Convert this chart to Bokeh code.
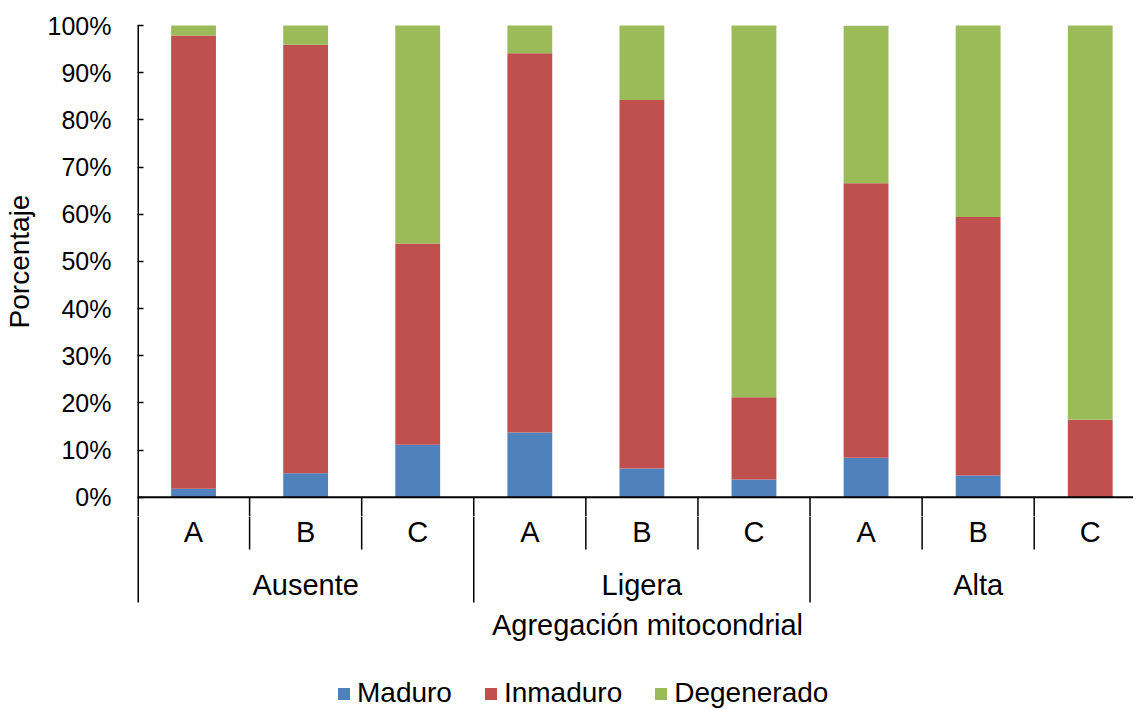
from bokeh.plotting import figure
from bokeh.layouts import column
from bokeh.models import (Range1d, FixedTicker, PrintfTickFormatter, ColumnDataSource,
                          Legend, LegendItem, Span)
from bokeh.core.properties import value
from bokeh.embed import file_html
from bokeh.resources import INLINE

# ---- data ----
groups = ["Ausente", "Ligera", "Alta"]
subgroups = ["A", "B", "C"]
series_names = ["Maduro", "Inmaduro", "Degenerado"]
maduro = [1.8, 5.1, 11.1, 13.7, 6.1, 3.75, 8.35, 4.6, 0.0]
inmaduro = [96.1, 90.8, 42.7, 80.4, 78.1, 17.45, 58.2, 54.8, 16.4]
degenerado = [2.1, 4.1, 46.2, 5.9, 15.8, 78.8, 33.4, 40.6, 83.6]
y_ticks = [0, 10, 20, 30, 40, 50, 60, 70, 80, 90, 100]
colors = ["#4F81BD", "#C0504D", "#9BBB59"]
x_title = "Agregación mitocondrial"
y_title = "Porcentaje"

FONT = "Liberation Sans"

n_cat = len(groups) * len(subgroups)
x_pos = [i + 0.5 for i in range(n_cat)]
sub_labels = [s for g in groups for s in subgroups]

source = ColumnDataSource(dict(x=x_pos, Maduro=maduro, Inmaduro=inmaduro, Degenerado=degenerado))

x_range = Range1d(0, 8.886)
Y_TOP = 104.03       # a little head-room so the axis title centres on 0-100 %
Y_SPLIT = -4.09      # boundary between the two stacked figures
Y_SHORT = -11.1
Y_LONG = -22.32

def style(fig):
    fig.title.visible = False
    fig.outline_line_color = None
    fig.xgrid.visible = False
    fig.ygrid.visible = False
    fig.background_fill_color = "white"
    fig.border_fill_color = "white"

def separators(fig):
    x0, y0, x1, y1 = [], [], [], []
    for i in range(1, n_cat + 1):
        x0.append(i); x1.append(i); y0.append(0)
        y1.append(Y_LONG if i % len(subgroups) == 0 else Y_SHORT)
    fig.segment(x0=x0, y0=y0, x1=x1, y1=y1, line_color="black", line_width=1.5)
    # left boundary: y axis line continued down to the group row
    fig.segment(x0=[0], y0=[max(y_ticks)], x1=[0], y1=[Y_LONG], line_color="black", line_width=3)

# ---- main chart ----
p = figure(width=1133, height=516, output_backend="svg", toolbar_location=None,
           x_range=x_range, y_range=Range1d(Y_SPLIT, Y_TOP),
           min_border_left=131, min_border_right=0, min_border_top=6, min_border_bottom=0)
style(p)
p.xaxis.visible = False

renderers = p.vbar_stack(series_names, x="x", width=0.4, color=colors, source=source,
                         line_color=None)
separators(p)
p.add_layout(Span(location=0, dimension="width", line_color="black", line_width=2))

ya = p.yaxis[0]
ya.ticker = FixedTicker(ticks=y_ticks)
ya.formatter = PrintfTickFormatter(format="%d%%")
ya.axis_line_color = None
ya.major_tick_in = 6
ya.major_tick_out = 0
ya.minor_tick_line_color = None
ya.major_tick_line_width = 1.5
ya.major_label_text_font = FONT
ya.major_label_text_font_size = "25px"
ya.major_label_text_color = "black"
ya.major_label_standoff = 26
ya.axis_label = y_title
ya.axis_label_text_font = FONT
ya.axis_label_text_font_size = "28px"
ya.axis_label_text_font_style = "normal"
ya.axis_label_text_color = "black"
ya.axis_label_standoff = 10

# ---- category axis area ----
q = figure(width=1133, height=193, output_backend="svg", toolbar_location=None,
           x_range=x_range, y_range=Range1d(-45.01, Y_SPLIT),
           min_border_left=131, min_border_right=0, min_border_top=0, min_border_bottom=0)
style(q)
q.xaxis.visible = False
q.yaxis.visible = False

separators(q)

q.text(x=x_pos, y=[-7.3] * n_cat, text=sub_labels, text_font=value(FONT),
       text_font_size=value("29px"), text_align="center", text_baseline="middle",
       text_color="black")
g_x = [len(subgroups) * g + len(subgroups) / 2 for g in range(len(groups))]
q.text(x=g_x, y=[-18.7] * len(groups), text=groups, text_font=value(FONT),
       text_font_size=value("29px"), text_align="center", text_baseline="middle",
       text_color="black")
q.text(x=[len(groups) * len(subgroups) / 2 + 0.05], y=[-27.2], text=[x_title],
       text_font=value(FONT), text_font_size=value("29px"), text_align="center",
       text_baseline="middle", text_color="black")

# legend proxies: same bars, hidden in this panel
proxies = q.vbar_stack(series_names, x="x", width=0.4, color=colors, source=source,
                       line_color=None)
for r in proxies:
    r.visible = False
legend = Legend(items=[LegendItem(label=n, renderers=[r]) for n, r in zip(series_names, proxies)],
                orientation="horizontal", location=(199, 0), border_line_color=None,
                background_fill_alpha=0, label_text_font=FONT, label_text_font_size="28px",
                label_text_color="black", inactive_fill_alpha=0,
                glyph_width=15, glyph_height=15, label_standoff=6, spacing=31,
                padding=0, margin=0)
q.add_layout(legend)

layout = column(p, q, spacing=0)
open("out.html", "w").write(file_html(layout, INLINE))
